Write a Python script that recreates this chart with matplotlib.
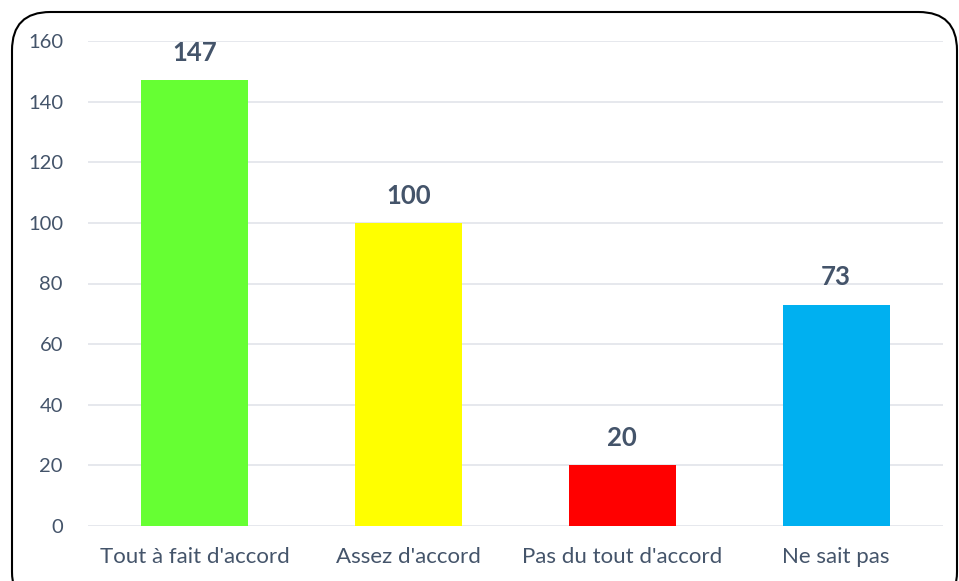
import matplotlib
matplotlib.use("Agg")
import matplotlib.pyplot as plt
from matplotlib.patches import FancyBboxPatch

categories = ["Tout à fait d'accord", "Assez d'accord", "Pas du tout d'accord", "Ne sait pas"]
values = [147, 100, 20, 73]
colors = ["#66FF33", "#FFFF00", "#FF0000", "#00B0F0"]
yticks = [0, 20, 40, 60, 80, 100, 120, 140, 160]

plt.rcParams['font.family'] = ['Lato', 'DejaVu Sans']
txt = "#44546A"

fig = plt.figure(figsize=(9.59, 5.81), dpi=100)
border = FancyBboxPatch((12/959, -0.05), (957-12)/959, (581-12)/581 + 0.05,
                        boxstyle="round,pad=0,rounding_size=0.04", transform=fig.transFigure,
                        fill=False, edgecolor="black", linewidth=1.5, mutation_aspect=959/581)
fig.patches.append(border)

ax = fig.add_axes([88/959, 1-526/581, (943-88)/959, (526-41)/581])
x = range(len(categories))
ax.bar(x, values, width=0.5, color=colors, zorder=3)
ax.set_xlim(-0.5, 3.5)
ax.set_ylim(0, 160)
ax.set_yticks(yticks)
ax.set_xticks(list(x))
ax.set_xticklabels(categories)
ax.tick_params(axis='both', length=0, colors=txt)
ax.tick_params(axis='x', pad=15, labelsize=16)
ax.tick_params(axis='y', pad=18, labelsize=14.5)
ax.grid(axis='y', color="#E1E4EA", linewidth=1.2, zorder=0)
for s in ax.spines.values():
    s.set_visible(False)
for xi, v in zip(x, values):
    ax.annotate(str(v), (xi, v), xytext=(0, 11), textcoords='offset points',
                ha='center', va='bottom', fontsize=18.5, fontweight='bold', color=txt)

fig.savefig("out.png", dpi=100)
